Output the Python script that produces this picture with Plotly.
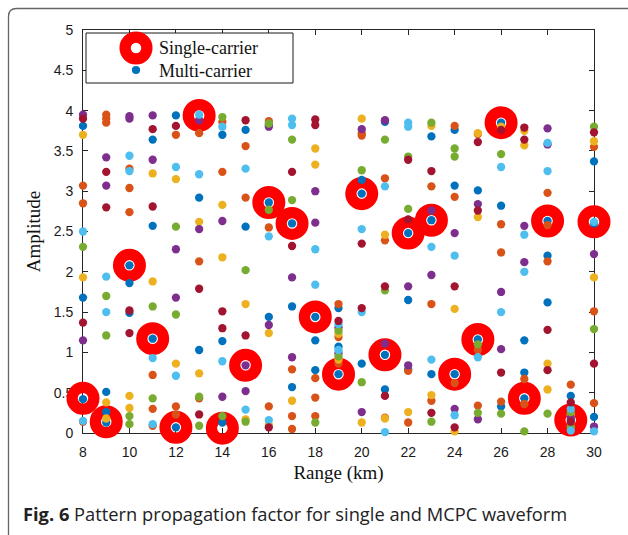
import plotly.graph_objects as go

# ---------------- data ----------------
RANGES = list(range(8, 31))
SINGLE_CARRIER = [0.43, 0.14, 2.08, 1.17, 0.07, 3.94, 0.06, 0.84, 2.86, 2.60, 1.44, 0.73,
                  2.97, 0.97, 2.48, 2.64, 0.73, 1.16, 3.85, 0.43, 2.63, 0.16, 2.62]

MC_BLUE = [(8, 3.81), (8, 1.68), (8, 0.42), (9, 0.51), (9, 0.26), (9, 0.13), (10, 2.08), (10, 1.86),
           (10, 1.49), (11, 3.64), (11, 2.57), (11, 1.17), (12, 3.94), (12, 0.07), (13, 2.92), (13, 1.03),
           (14, 3.70), (14, 1.14), (14, 0.13), (15, 3.76), (15, 2.56), (16, 3.82), (16, 2.86), (16, 1.44),
           (17, 2.60), (17, 1.57), (17, 0.57), (18, 1.44), (18, 1.15), (18, 0.78), (19, 1.55), (19, 1.07),
           (19, 0.73), (20, 3.14), (20, 2.97), (20, 0.86), (21, 3.86), (21, 0.97), (21, 0.54), (22, 2.48),
           (22, 1.65), (22, 0.79), (23, 3.68), (23, 2.64), (23, 0.73), (24, 3.76), (24, 3.07), (24, 0.73),
           (25, 3.01), (25, 1.16), (26, 3.85), (26, 2.82), (26, 0.33), (27, 1.15), (27, 0.75), (27, 0.43),
           (28, 2.63), (28, 2.20), (28, 1.62), (29, 0.46), (29, 0.16), (30, 3.37), (30, 2.60), (30, 0.20)]
MC_ORANGE = [(8, 3.07), (8, 2.85), (8, 0.14), (9, 3.95), (9, 3.90), (9, 3.85), (10, 3.28), (10, 3.04),
             (10, 2.74), (11, 0.72), (11, 0.30), (11, 0.09), (12, 3.70), (12, 0.33), (12, 0.23), (13, 3.72),
             (13, 2.13), (13, 0.43), (14, 3.86), (14, 3.24), (15, 3.56), (15, 2.92), (16, 3.87), (16, 2.55),
             (16, 0.33), (17, 0.79), (17, 0.21), (17, 0.05), (18, 0.68), (18, 0.44), (18, 0.21), (19, 1.60),
             (19, 1.19), (19, 0.86), (20, 3.72), (20, 3.69), (21, 3.16), (21, 2.39), (21, 0.19), (22, 0.77),
             (22, 0.13), (23, 3.06), (23, 1.60), (23, 0.40), (24, 3.81), (24, 2.93), (24, 0.62), (25, 3.71),
             (25, 1.03), (25, 0.34), (26, 2.59), (26, 2.24), (26, 0.39), (27, 0.67), (27, 0.36), (28, 2.98),
             (28, 2.58), (28, 2.13), (29, 0.60), (29, 0.10), (30, 3.55), (30, 1.51), (30, 0.37)]
MC_YELLOW = [(8, 3.70), (8, 1.93), (9, 0.38), (9, 0.18), (10, 0.46), (10, 0.31), (11, 3.22), (11, 1.88),
             (12, 3.15), (12, 0.86), (13, 2.62), (13, 0.74), (14, 2.83), (14, 2.18), (15, 1.60), (15, 0.17),
             (16, 1.24), (16, 0.10), (17, 0.40), (18, 3.53), (18, 3.33), (19, 1.23), (19, 0.91), (20, 3.90),
             (20, 0.13), (21, 2.46), (21, 0.18), (22, 0.26), (23, 3.81), (23, 0.47), (24, 1.54), (24, 0.02),
             (25, 3.72), (25, 2.68), (26, 3.80), (27, 3.75), (27, 3.57), (28, 0.86), (28, 0.54), (29, 0.22),
             (30, 3.62), (30, 1.93)]
MC_PURPLE = [(8, 3.95), (8, 1.15), (9, 3.42), (9, 3.07), (10, 3.93), (10, 3.90), (11, 3.94), (11, 3.39),
             (12, 2.28), (12, 1.68), (13, 3.88), (13, 2.53), (14, 2.63), (14, 0.45), (15, 0.84), (15, 0.52),
             (16, 3.80), (16, 1.34), (17, 1.93), (17, 0.94), (18, 3.00), (18, 2.61), (19, 1.31), (19, 0.99),
             (20, 3.77), (20, 0.26), (21, 3.88), (21, 1.11), (22, 1.82), (22, 0.84), (23, 2.76), (23, 1.96),
             (24, 2.48), (24, 0.30), (25, 2.84), (25, 0.17), (26, 1.75), (26, 1.04), (27, 2.57), (27, 2.12),
             (28, 3.78), (28, 3.58), (29, 0.19), (30, 2.22), (30, 0.08)]
MC_GREEN = [(8, 2.31), (9, 1.70), (9, 1.21), (10, 0.21), (10, 0.11), (11, 1.57), (11, 0.43), (12, 2.56),
            (12, 1.47), (13, 0.45), (13, 0.09), (14, 3.92), (14, 0.21), (15, 2.02), (15, 0.14), (16, 3.84),
            (16, 2.77), (17, 3.64), (17, 2.89), (18, 0.13), (19, 1.27), (19, 0.95), (20, 3.26), (20, 0.63),
            (21, 3.64), (21, 1.77), (22, 3.43), (22, 2.78), (23, 3.85), (23, 0.14), (24, 3.53), (24, 3.43),
            (25, 1.10), (25, 0.25), (26, 3.46), (26, 0.24), (27, 0.02), (28, 0.24), (29, 0.26), (29, 0.07),
            (30, 3.80), (30, 1.29)]
MC_LIGHTBLUE = [(8, 2.50), (8, 0.15), (9, 1.94), (9, 1.50), (10, 3.44), (10, 3.25), (11, 0.93), (11, 0.11),
                (12, 3.30), (12, 0.71), (13, 3.95), (13, 3.21), (14, 3.80), (14, 0.89), (15, 3.28), (15, 0.29),
                (16, 2.44), (16, 0.16), (17, 3.90), (17, 3.82), (18, 2.28), (18, 1.84), (19, 1.35), (19, 1.03),
                (20, 2.53), (20, 1.50), (21, 3.06), (21, 0.01), (22, 3.85), (22, 3.80), (23, 2.31), (23, 0.91),
                (24, 2.20), (24, 0.22), (25, 0.94), (26, 3.30), (26, 1.50), (27, 2.46), (27, 2.00), (28, 3.60),
                (28, 3.25), (29, 0.30), (29, 0.03), (30, 2.62), (30, 0.02)]
MC_DARKRED = [(8, 3.90), (8, 1.37), (9, 3.24), (9, 2.80), (10, 1.52), (10, 1.24), (11, 3.77), (11, 2.81),
              (12, 3.81), (13, 1.79), (13, 0.23), (14, 1.51), (14, 1.30), (15, 3.88), (15, 1.21), (16, 0.07),
              (17, 3.24), (17, 2.32), (18, 3.89), (18, 3.82), (19, 1.39), (20, 2.35), (20, 1.55), (21, 1.82),
              (21, 0.46), (22, 3.39), (22, 2.65), (23, 3.25), (23, 0.25), (24, 1.82), (24, 0.07), (25, 3.61),
              (25, 2.76), (26, 3.76), (26, 0.75), (27, 3.79), (27, 3.64), (28, 1.28), (28, 0.78), (29, 0.38),
              (29, 0.14), (30, 3.73), (30, 0.86)]

X_TICKS = list(range(8, 31, 2))
Y_TICKS = [0, 0.5, 1, 1.5, 2, 2.5, 3, 3.5, 4, 4.5, 5]
Y_TICK_TEXT = ["0", "0.5", "1", "1.5", "2", "2.5", "3", "3.5", "4", "4.5", "5"]

# ---------------- figure ----------------
W, H = 628, 535
ML, MR, MT, MB = 83, 34, 30, 102
PW, PH = W - ML - MR, H - MT - MB


def px(xp):
    return (xp - ML) / PW


def py(yp):
    return (H - MB - yp) / PH


fig = go.Figure()

fig.add_trace(go.Scatter(
    x=RANGES, y=SINGLE_CARRIER, mode="markers", name="Single-carrier",
    marker=dict(symbol="circle-open", size=21.75, color="#ff0000",
                line=dict(width=11.25, color="#ff0000")),
    cliponaxis=False, showlegend=False))

series = [
    ("#0072BD", MC_BLUE), ("#D95319", MC_ORANGE), ("#EDB120", MC_YELLOW),
    ("#7E2F8E", MC_PURPLE), ("#77AC30", MC_GREEN), ("#4DBEEE", MC_LIGHTBLUE),
    ("#A2142F", MC_DARKRED),
]
for i, (col, pts) in enumerate(series):
    fig.add_trace(go.Scatter(
        x=[p[0] for p in pts], y=[p[1] for p in pts], mode="markers",
        name="Multi-carrier", legendgroup="mc",
        marker=dict(symbol="circle", size=8.3, color=col, line=dict(width=0)),
        cliponaxis=False, showlegend=False))

axis_common = dict(
    showline=True, linecolor="#262626", linewidth=1, mirror="ticks",
    ticks="inside", ticklen=5, tickcolor="#262626", tickwidth=1,
    showgrid=False, zeroline=False, layer="below traces",
    tickfont=dict(family="Liberation Sans", size=14, color="#1a1a1a"),
)

fig.update_xaxes(range=[8, 30], tickvals=X_TICKS, ticklabelstandoff=6,
                 title=dict(text="Range (km)", standoff=6,
                            font=dict(family="Liberation Serif", size=19, color="#111")),
                 **axis_common)
fig.update_yaxes(range=[0, 5], tickvals=Y_TICKS, ticktext=Y_TICK_TEXT, ticklabelstandoff=6,
                 title=dict(text="Amplitude", standoff=8,
                            font=dict(family="Liberation Serif", size=19, color="#111")),
                 **axis_common)

shapes = []
# outer rounded frame (partially visible, as in the reference)
fx, fy, r = 8.5, 8.5, 8
shapes.append(dict(
    type="path", xref="paper", yref="paper", layer="below",
    path=(f"M {px(fx)},{py(H + 40)} L {px(fx)},{py(fy + r)} "
          f"Q {px(fx)},{py(fy)} {px(fx + r)},{py(fy)} L {px(W + 40)},{py(fy)}"),
    line=dict(color="#666666", width=1.3)))

# custom legend box
shapes.append(dict(type="rect", xref="paper", yref="paper", layer="above",
                   x0=px(86), x1=px(293), y0=py(83), y1=py(33),
                   fillcolor="white", line=dict(color="#1a1a1a", width=1)))
shapes.append(dict(type="circle", xref="paper", yref="paper", layer="above",
                   xsizemode="pixel", ysizemode="pixel",
                   xanchor=px(136), yanchor=py(48),
                   x0=-10.9, x1=10.9, y0=-10.9, y1=10.9,
                   line=dict(color="#ff0000", width=11.25)))
shapes.append(dict(type="circle", xref="paper", yref="paper", layer="above",
                   xsizemode="pixel", ysizemode="pixel",
                   xanchor=px(136), yanchor=py(70),
                   x0=-4.1, x1=4.1, y0=-4.1, y1=4.1,
                   fillcolor="#0072BD", line=dict(width=0)))

annotations = [
    dict(text="Single-carrier", xref="paper", yref="paper", x=px(157), y=py(48),
         xanchor="left", yanchor="middle", showarrow=False,
         font=dict(family="Liberation Serif", size=18, color="#111")),
    dict(text="Multi-carrier", xref="paper", yref="paper", x=px(157), y=py(71),
         xanchor="left", yanchor="middle", showarrow=False,
         font=dict(family="Liberation Serif", size=18, color="#111")),
    dict(text="<b>Fig. 6</b> Pattern propagation factor for single and MCPC waveform",
         xref="paper", yref="paper", x=px(21), y=py(513), xanchor="left", yanchor="middle",
         showarrow=False, font=dict(family="Open Sans", size=18.3, color="#222")),
]

fig.update_layout(
    width=W, height=H, margin=dict(l=ML, r=MR, t=MT, b=MB),
    paper_bgcolor="white", plot_bgcolor="white", showlegend=False,
    shapes=shapes, annotations=annotations,
)

fig.write_html("out.html")
